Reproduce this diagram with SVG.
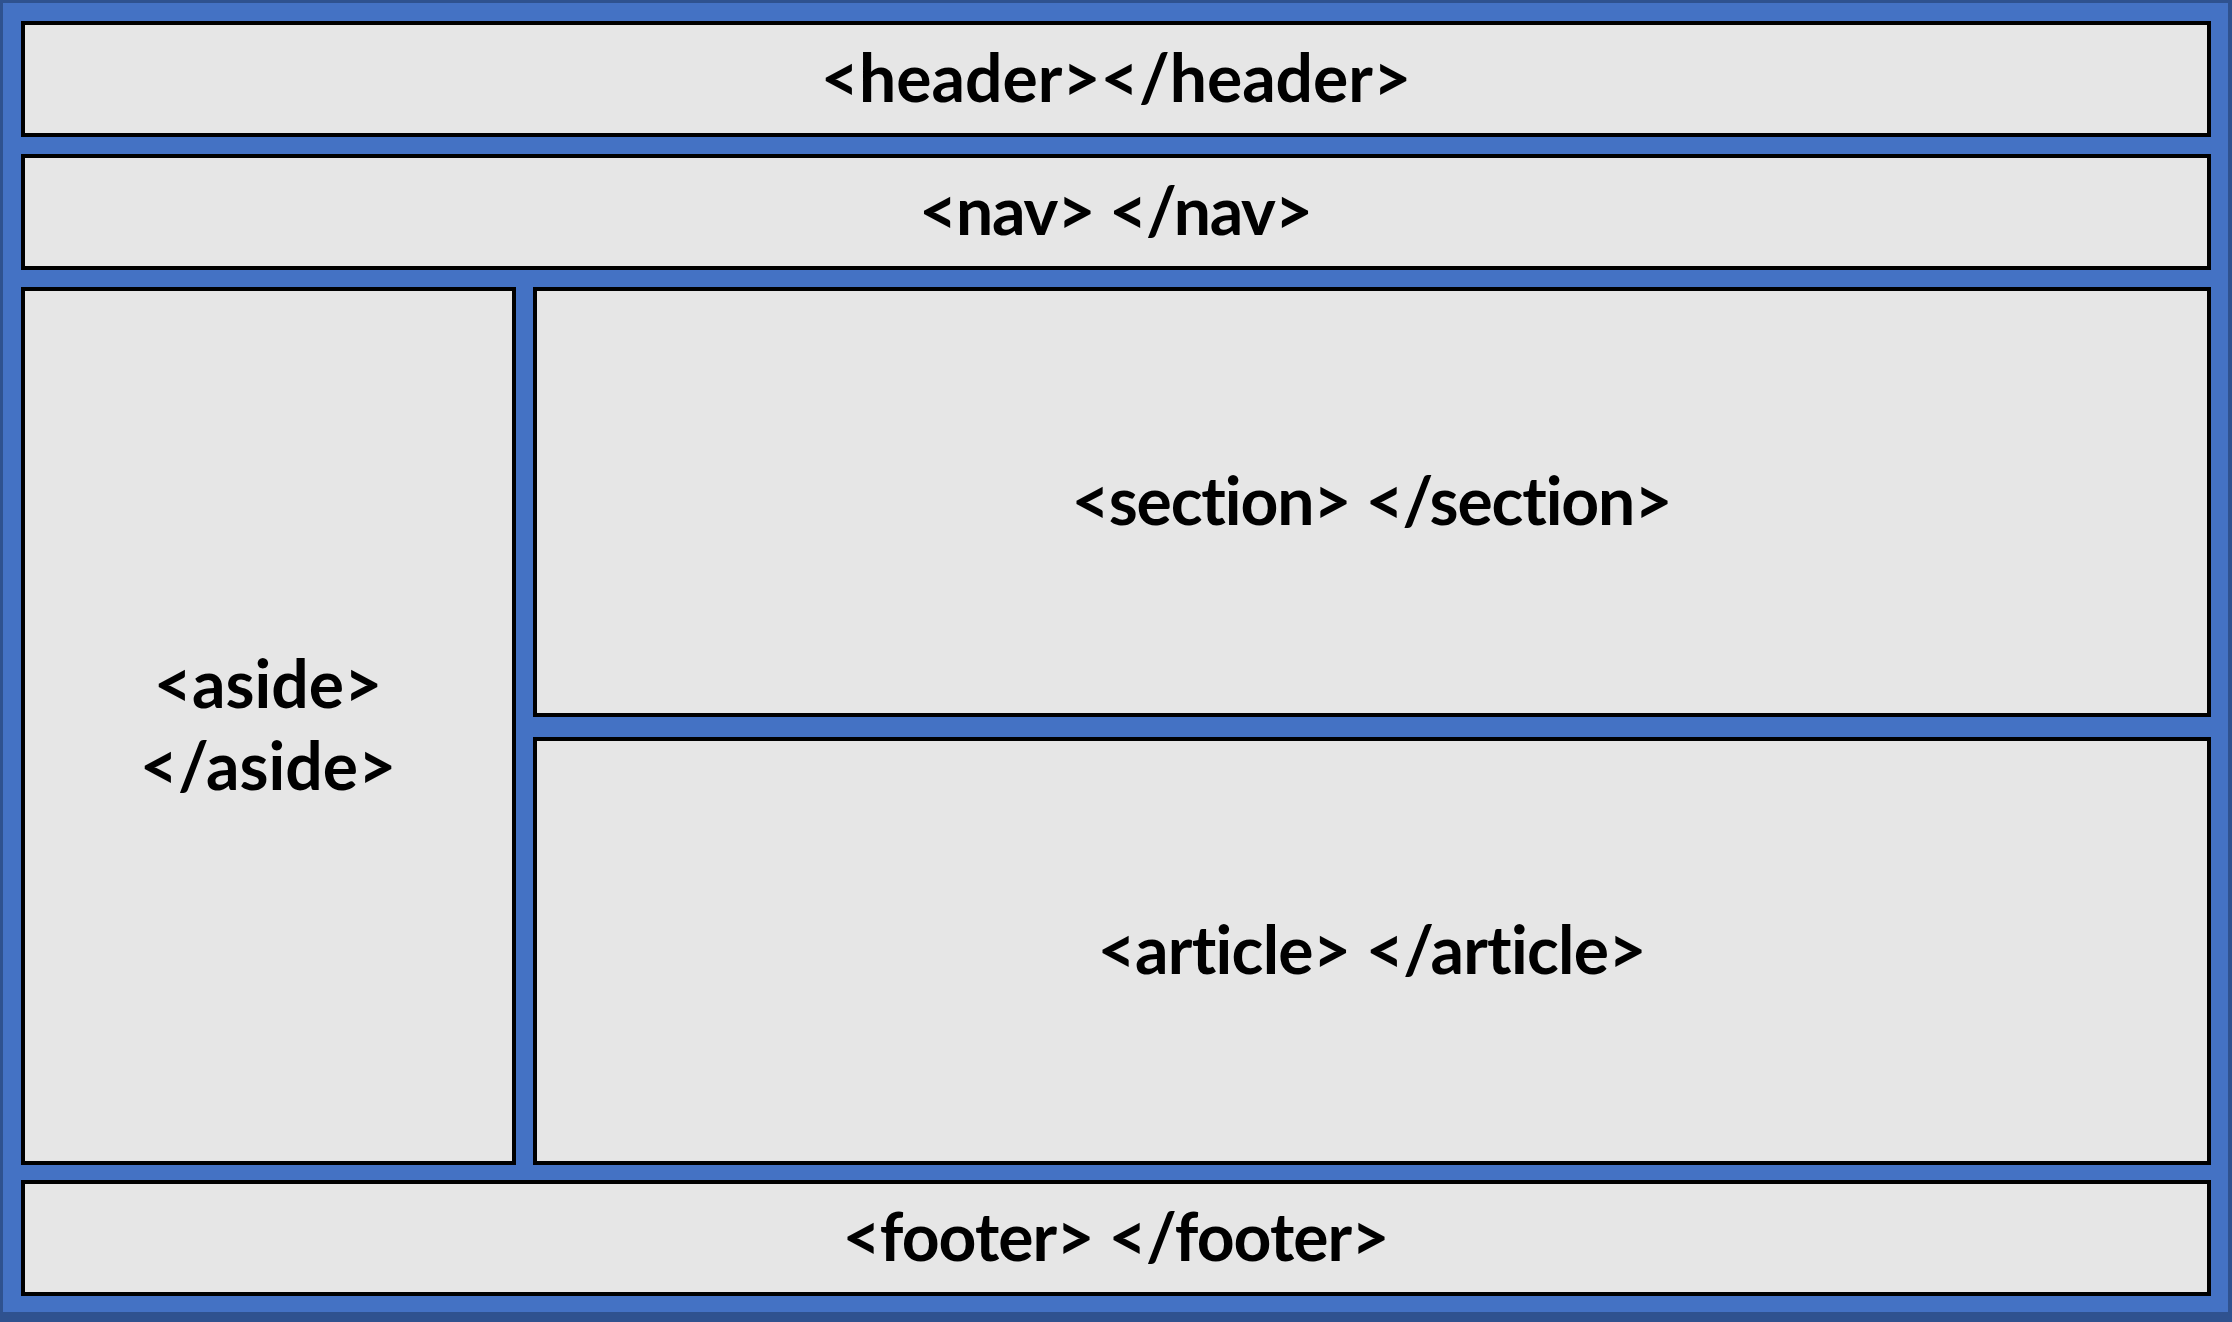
<svg xmlns="http://www.w3.org/2000/svg" width="2232" height="1322" viewBox="0 0 2232 1322">
<style>
.box{fill:#E6E6E6;stroke:#000;stroke-width:4}
.t{font-family:Lato,"Liberation Sans",sans-serif;font-weight:bold;font-size:66px;fill:#000;text-anchor:middle;font-variant-ligatures:none;font-feature-settings:"liga" 0}
</style>
<rect x="0" y="0" width="2232" height="1322" fill="#2F528F"/>
<rect x="3" y="3" width="2225" height="1309" fill="#4472C4"/>
<g id="header"><rect class="box" x="23" y="23" width="2186" height="112"/><text class="t" x="1116" y="102">&lt;header&gt;&lt;/header&gt;</text></g>
<g id="nav"><rect class="box" x="23" y="156" width="2186" height="112"/><text class="t" x="1116" y="235" textLength="394">&lt;nav&gt; &lt;/nav&gt;</text></g>
<g id="aside"><rect class="box" x="23" y="289" width="491" height="874"/><text class="t" x="268" y="708">&lt;aside&gt;</text><text class="t" x="268" y="790">&lt;/aside&gt;</text></g>
<g id="section"><rect class="box" x="535" y="289" width="1674" height="426"/><text class="t" x="1372" y="525" textLength="601">&lt;section&gt; &lt;/section&gt;</text></g>
<g id="article"><rect class="box" x="535" y="739" width="1674" height="424"/><text class="t" x="1372" y="974" textLength="549">&lt;article&gt; &lt;/article&gt;</text></g>
<g id="footer"><rect class="box" x="23" y="1182" width="2186" height="112"/><text class="t" x="1116" y="1261" textLength="547">&lt;footer&gt; &lt;/footer&gt;</text></g>
<g id="connectors"/>
</svg>
